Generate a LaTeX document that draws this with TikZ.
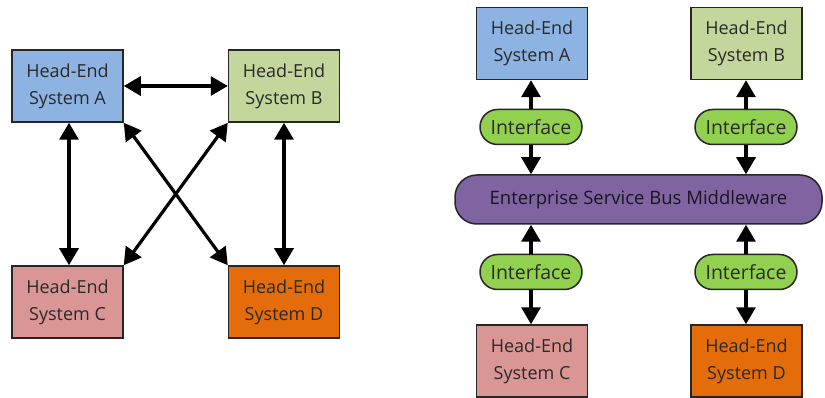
\documentclass[tikz,border=0pt]{standalone}
\usepackage{fontspec}
\setmainfont{Open Sans}
\usetikzlibrary{arrows.meta,shapes.misc}
\definecolor{cA}{HTML}{8DB3E2}
\definecolor{cB}{HTML}{C3D69B}
\definecolor{cC}{HTML}{D99694}
\definecolor{cD}{HTML}{E46C0A}
\definecolor{cI}{HTML}{92D050}
\definecolor{cE}{HTML}{8064A2}
\definecolor{txt}{HTML}{2A2A2A}
\tikzset{
  hes/.style={draw=black!85, line width=1.5pt, minimum width=111pt, minimum height=72pt,
    align=center, inner sep=0pt, text=txt, font=\fontsize{18}{27}\selectfont},
  iface/.style={draw=black!85, line width=1.5pt, fill=cI, rounded rectangle, minimum width=102pt,
    minimum height=35pt, inner sep=0pt, text=txt, font=\fontsize{19.5}{24}\selectfont},
  esb/.style={draw=black!85, line width=1.5pt, fill=cE, rounded corners=22pt, minimum width=367pt,
    minimum height=49pt, inner sep=0pt, text=black!80!cE, font=\fontsize{18.5}{24}\selectfont},
  bigtip/.tip={Triangle[width=19pt 0,length=17pt 0]},
  link/.style={line width=3.2pt, bigtip-bigtip},
  outlink/.style={line width=3.2pt, -bigtip},
}
\begin{document}
\begin{tikzpicture}[x=1pt,y=-1pt]
\useasboundingbox (0,0) rectangle (825,398);
% left
\node[hes, fill=cA] (la) at (67.5,86) {Head-End\\System A};
\node[hes, fill=cB] (lb) at (284,86) {Head-End\\System B};
\node[hes, fill=cC] (lc) at (67.5,302) {Head-End\\System C};
\node[hes, fill=cD] (ld) at (284,302) {Head-End\\System D};
\draw[link] (la.east) -- (lb.west);
\draw[link] ([xshift=1.5pt]la.south) -- ([xshift=1.5pt]lc.north);
\draw[link] (lb.south) -- (ld.north);
\draw[link] (la.south east) -- (ld.north west);
\draw[link] (lb.south west) -- (lc.north east);
% right
\node[hes, fill=cA] (ra) at (532,43.5) {Head-End\\System A};
\node[hes, fill=cB] (rb) at (746.5,43.5) {Head-End\\System B};
\node[hes, fill=cC] (rc) at (532,361) {Head-End\\System C};
\node[hes, fill=cD] (rd) at (746.5,361) {Head-End\\System D};
\node[esb] (esb) at (638.5,199.5) {Enterprise Service Bus Middleware};
\node[iface] (ia) at (531,127) {Interface};
\node[iface] (ib) at (746,127) {Interface};
\node[iface] (ic) at (531,272) {Interface};
\node[iface] (id) at (746,272) {Interface};
\draw[outlink] (ia.north) -- (ia.north |- ra.south);
\draw[outlink] (ia.south) -- (ia.south |- esb.north);
\draw[outlink] (ib.north) -- (ib.north |- rb.south);
\draw[outlink] (ib.south) -- (ib.south |- esb.north);
\draw[outlink] (ic.north) -- (ic.north |- esb.south);
\draw[outlink] (ic.south) -- (ic.south |- rc.north);
\draw[outlink] (id.north) -- (id.north |- esb.south);
\draw[outlink] (id.south) -- (id.south |- rd.north);
\end{tikzpicture}
\end{document}
